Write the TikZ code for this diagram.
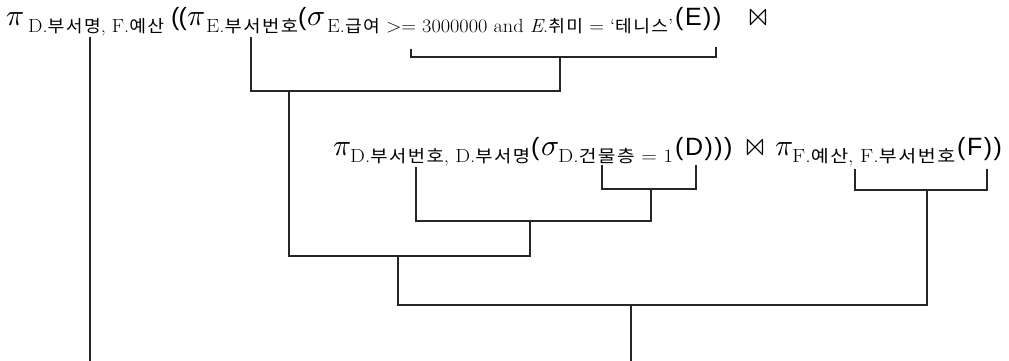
\documentclass[tikz,border=0pt]{standalone}
\usepackage{graphicx}
\usepackage{fontspec}
\newfontfamily\kr[LetterSpace=8]{Noto Sans CJK KR}
\newfontfamily\arl[LetterSpace=6]{Liberation Sans}
\newfontfamily\arlt{Liberation Sans}
\newfontfamily\lmm{latinmodern-math.otf}
\newcommand{\ko}[1]{{\kr\fontsize{17}{17}\selectfont #1}}
% operator symbol, then its lowered subscript set to a given width
\newcommand{\opsub}[4]{\makebox[#2][l]{\fontsize{30}{30}\selectfont\lmm #1}\raisebox{-7pt}{\resizebox{#3}{\height}{\fontsize{19}{19}\selectfont #4}}}
\newcommand{\bigpar}[1]{{\arl\fontsize{25}{25}\selectfont #1}}
\newcommand{\jn}{{\lmm\fontsize{32}{32}\selectfont ⋈}}
\tikzset{tree/.style={line width=1.2pt, draw=black!85, line cap=rect}}
\begin{document}
\begin{tikzpicture}[x=1pt,y=1pt,yscale=-1,xscale=1]
    \useasboundingbox (0,0) rectangle (1009,360);

    % Text Node: first line
    \draw (6,25) node (q1a) [anchor=base west][inner sep=0pt] {\opsub{𝜋}{22pt}{136pt}{D.\ko{부서명}, F.\ko{예산}}};
    \draw (171,25) node (q1b) [anchor=base west][inner sep=0pt] {{\arlt\fontsize{25}{25}\selectfont (\kern-1pt(}};
    \draw (187,25) node (q1c) [anchor=base west][inner sep=0pt] {\opsub{𝜋}{19pt}{92pt}{E.\ko{부서번호}}};
    \draw (298,25) node (q1d) [anchor=base west][inner sep=0pt] {\bigpar{(}};
    \draw (307,25) node (q1e) [anchor=base west][inner sep=0pt] {\opsub{𝜎}{20pt}{346pt}{E.\ko{급여} >= 3000000 and \textit{E}.\ko{취미} = ‘\ko{테니스}’}};
    \draw (675,25) node (q1f) [anchor=base west][inner sep=0pt] {\bigpar{(E))}};
    \draw (748,25) node (q1g) [anchor=base west][inner sep=0pt] {\jn};

    % Text Node: second line
    \draw (333,155) node (q2a) [anchor=base west][inner sep=0pt] {\opsub{𝜋}{17pt}{180pt}{D.\ko{부서번호}, D.\ko{부서명}}};
    \draw (531,155) node (q2b) [anchor=base west][inner sep=0pt] {\bigpar{(}};
    \draw (541,155) node (q2c) [anchor=base west][inner sep=0pt] {\opsub{𝜎}{17pt}{115pt}{D.\ko{건물층} = 1}};
    \draw (675,155) node (q2d) [anchor=base west][inner sep=0pt] {\bigpar{(D)))}};
    \draw (745,155) node (q2e) [anchor=base west][inner sep=0pt] {\jn};
    \draw (775,155) node (q2f) [anchor=base west][inner sep=0pt] {\opsub{𝜋}{17pt}{163pt}{F.\ko{예산}, F.\ko{부서번호}}};
    \draw (957,155) node (q2g) [anchor=base west][inner sep=0pt] {\bigpar{(F))}};

    % tree points
    \coordinate (p1) at (90,38);    \coordinate (p2) at (90,360);
    \coordinate (e1) at (411,50);   \coordinate (e2) at (716,48);
    \coordinate (e3) at (560,57);   \coordinate (j1) at (560,91);
    \coordinate (b1) at (251,38);
    \coordinate (j2) at (289,91);   \coordinate (j3) at (289,256);
    \coordinate (c1) at (416,168);
    \coordinate (s1) at (602,166);  \coordinate (s2) at (696,166);
    \coordinate (s3) at (651,189);  \coordinate (k1) at (651,221);
    \coordinate (k2) at (530,221);
    \coordinate (m1) at (398,256);  \coordinate (m2) at (398,305);
    \coordinate (f1) at (855,170);  \coordinate (f2) at (987,170);
    \coordinate (f3) at (927,190);  \coordinate (m3) at (927,305);
    \coordinate (r1) at (631,305);  \coordinate (r2) at (631,360);

    % Lines
    \draw[tree] (p1) -- (p2);
    \draw[tree] (e1) |- (e3) -| (e2);
    \draw[tree] (e3) -- (j1) -| (b1);
    \draw[tree] (j2) -- (j3);
    \draw[tree] (s1) |- (s3) -| (s2);
    \draw[tree] (s3) -- (k1) -| (c1);
    \draw[tree] (j3) -| (k2);
    \draw[tree] (m1) -- (m2) -- (m3) -- (f3);
    \draw[tree] (f1) |- (f3) -| (f2);
    \draw[tree] (r1) -- (r2);
\end{tikzpicture}
\end{document}
